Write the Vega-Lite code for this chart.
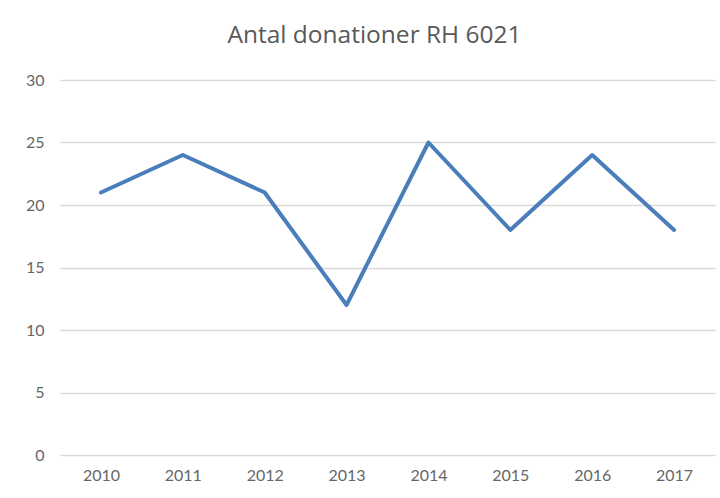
{
  "$schema": "https://vega.github.io/schema/vega-lite/v6.json",
  "autosize": {"type": "none"},
  "width": 655,
  "height": 375,
  "padding": {"left": 60, "top": 80, "right": 5, "bottom": 43},
  "background": "white",
  "title": {
    "text": "Antal donationer RH 6021",
    "font": "Open Sans",
    "fontSize": 24.5,
    "fontWeight": "normal",
    "color": "#595959",
    "anchor": "middle",
    "dx": -13,
    "offset": 24
  },
  "config": {"view": {"stroke": null}},
  "data": {
    "values": [
      {"year": "2010", "value": 21},
      {"year": "2011", "value": 24},
      {"year": "2012", "value": 21},
      {"year": "2013", "value": 12},
      {"year": "2014", "value": 25},
      {"year": "2015", "value": 18},
      {"year": "2016", "value": 24},
      {"year": "2017", "value": 18}
    ]
  },
  "mark": {"type": "line", "color": "#4A7EBB", "strokeWidth": 4, "strokeJoin": "round", "strokeCap": "round"},
  "encoding": {
    "x": {
      "field": "year",
      "type": "ordinal",
      "scale": {"type": "point", "padding": 0.5},
      "axis": {
        "title": null,
        "labelAngle": 0,
        "domain": false,
        "ticks": false,
        "labelFont": "Lato",
        "labelFontSize": 16,
        "labelColor": "#666666",
        "labelPadding": 12
      }
    },
    "y": {
      "field": "value",
      "type": "quantitative",
      "scale": {"domain": [0, 30]},
      "axis": {
        "title": null,
        "values": [0, 5, 10, 15, 20, 25, 30],
        "domain": false,
        "ticks": false,
        "grid": true,
        "gridColor": "#D9D9D9",
        "gridWidth": 1.5,
        "labelFont": "Lato",
        "labelFontSize": 16,
        "labelColor": "#666666",
        "labelPadding": 16
      }
    }
  }
}
